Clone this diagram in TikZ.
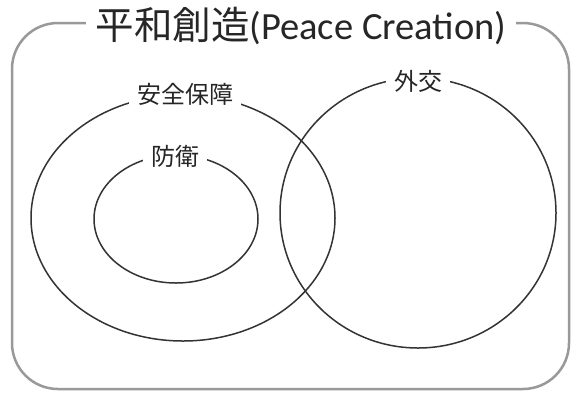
\documentclass[tikz,border=0pt]{standalone}
\usepackage{fontspec}
\setmainfont{Carlito}
\newfontfamily\cjk{Noto Sans CJK JP}
\begin{document}
\begin{tikzpicture}[x=1pt,y=-1pt,
  frame/.style={draw=black!40,line width=2.5pt,rounded corners=46pt},
  ring/.style={draw=black!80,line width=1.5pt},
  lab/.style={fill=white,inner xsep=8pt,inner ysep=2pt,text=black!85,font=\cjk\fontsize{24}{26}\selectfont},
  ttl/.style={fill=white,inner xsep=10pt,inner ysep=2pt,text=black!85,font=\fontsize{38.5}{42}\selectfont}]
\useasboundingbox (0,0) rectangle (572,392);
\fill[white] (0,0) rectangle (572,392);
\draw[frame] (12,23) rectangle (569,389);
\draw[ring] (183,218) ellipse [x radius=152pt, y radius=123pt];
\draw[ring] (418,213) ellipse [x radius=138pt, y radius=135pt];
\draw[ring] (176,219) ellipse [x radius=82pt, y radius=64pt];
\node[ttl] (title) at (301,26) {{\cjk 平和創造}(Peace Creation)};
\node[lab] (anzen) at (185,94) {安全保障};
\node[lab] (boei) at (175,156) {防衛};
\node[lab] (gaiko) at (418,81) {外交};
\end{tikzpicture}
\end{document}
